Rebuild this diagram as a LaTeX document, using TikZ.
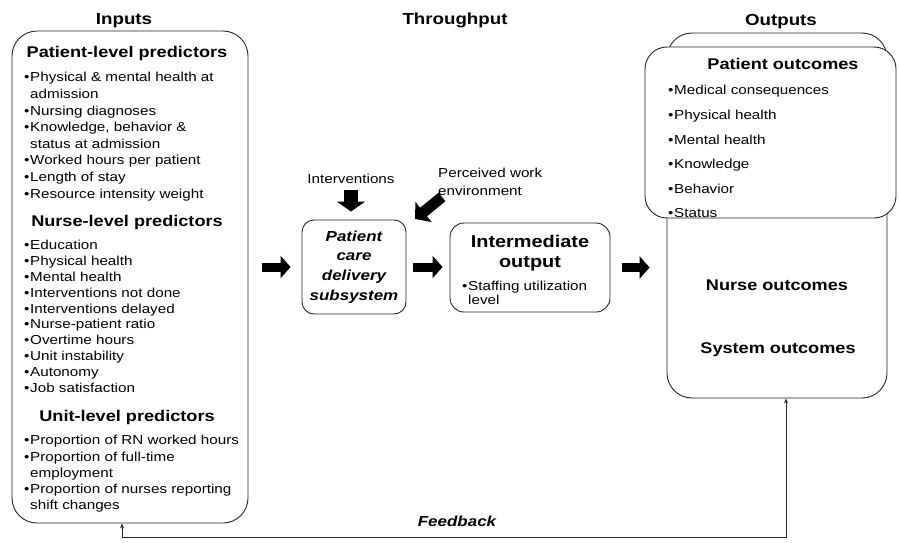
\documentclass[tikz,border=0pt]{standalone}
\usepackage{fontspec}
\setmainfont{Liberation Sans}[FakeStretch=1.17]
\usetikzlibrary{arrows.meta}
\newcommand{\bul}{\makebox[6pt][l]{•}}
\newcommand{\ind}{\hspace*{6pt}}
\begin{document}
\begin{tikzpicture}[x=1pt,y=-1pt,
  box/.style={draw=black!85, line width=0.9pt, inner sep=0pt},
  title/.style={inner sep=0pt, font=\fontsize{16}{19}\selectfont\bfseries},
  head/.style={inner sep=0pt, font=\fontsize{15.5}{18}\selectfont\bfseries},
  plain/.style={inner sep=0pt, font=\fontsize{13}{16}\selectfont},
  list/.style={align=left, inner sep=0pt, anchor=north west},
  flowarrow/.style={line width=9pt, -{Triangle[length=10pt,width=22pt]}},
  downarrow/.style={line width=14pt, -{Triangle[length=10pt,width=28pt]}},
  diagarrow/.style={line width=11pt, -{Triangle[length=11pt,width=25pt]}},
  fbline/.style={line width=0.9pt, draw=black!85, {Stealth[length=5pt,width=4pt]}-{Stealth[length=5pt,width=4pt]}}
]
\useasboundingbox (0,0) rectangle (899,543);

% column titles
\node[title] (tin) at (124,21) {Inputs};
\node[title] (tthr) at (455,20) {Throughput};
\node[title] (tout) at (781,22) {Outputs};

% inputs
\node[box, rounded corners=25pt, minimum width=236pt, minimum height=492pt] (inbox) at (130,277) {};
\node[head] (hpat) at (127,53) {Patient-level predictors};
\node[list, font=\fontsize{13}{16.6}\selectfont] (lpat) at (24,72.3) {%
\bul Physical \& mental health at\\
\ind admission\\
\bul Nursing diagnoses\\
\bul Knowledge, behavior \&\\
\ind status at admission\\
\bul Worked hours per patient\\
\bul Length of stay\\
\bul Resource intensity weight};
\node[head] (hnur) at (127,222) {Nurse-level predictors};
\node[list, font=\fontsize{13}{15.8}\selectfont] (lnur) at (24,240.3) {%
\bul Education\\
\bul Physical health\\
\bul Mental health\\
\bul Interventions not done\\
\bul Interventions delayed\\
\bul Nurse-patient ratio\\
\bul Overtime hours\\
\bul Unit instability\\
\bul Autonomy\\
\bul Job satisfaction};
\node[head] (hunit) at (127,417) {Unit-level predictors};
\node[list, font=\fontsize{13}{16.25}\selectfont] (lunit) at (24,435.3) {%
\bul Proportion of RN worked hours\\
\bul Proportion of full-time\\
\ind employment\\
\bul Proportion of nurses reporting\\
\ind shift changes};

% throughput
\node[box, rounded corners=12pt, minimum width=104pt, minimum height=94pt, align=center,
  font=\fontsize{14.5}{19.8}\selectfont\bfseries\itshape] (care) at (354,267) {Patient\\care\\delivery\\subsystem};
\node[box, rounded corners=14pt, minimum width=160pt, minimum height=89pt] (intbox) at (530,267.5) {};
\node[inner sep=0pt, align=center, font=\fontsize{17}{20}\selectfont\bfseries] (inttitle) at (530,253) {Intermediate\\output};
\node[list, font=\fontsize{13}{11}\selectfont] (intlist) at (462,281.3) {%
\bul Staffing utilization\\
\ind level};

\node[plain] (intv) at (351,179) {Interventions};
\node[plain, align=left, anchor=west, font=\fontsize{13}{18}\selectfont] (perc) at (438,182) {Perceived work\\environment};
\coordinate (pcTip) at (415,219);

% outputs
\node[box, rounded corners=25pt, minimum width=220pt, minimum height=365pt] (outbox) at (777,215.5) {};
\node[box, fill=white, rounded corners=22pt, minimum width=251pt, minimum height=171pt] (pout) at (770.5,132.5) {};
\node[head] (hpout) at (783,64) {Patient outcomes};
\node[list, font=\fontsize{13}{24.6}\selectfont] (lpout) at (668,85.3) {%
\bul Medical consequences\\
\bul Physical health\\
\bul Mental health\\
\bul Knowledge\\
\bul Behavior\\
\bul Status};
\node[head] (nout) at (777,285) {Nurse outcomes};
\node[head] (sout) at (778,350) {System outcomes};

% flow arrows
\draw[flowarrow, shorten <=14pt, shorten >=11pt] (inbox.east |- care.west) -- (care.west);
\draw[flowarrow, shorten <=7pt, shorten >=7pt] (care.east) -- (care.east -| intbox.west);
\draw[flowarrow, shorten <=12pt, shorten >=17pt] (intbox.east) -- (intbox.east -| outbox.west);
\draw[downarrow, shorten <=6pt, shorten >=8pt] (intv.south) -- (intv.south |- care.north);
\draw[diagarrow] ([shift={(4,1)}]perc.south west) -- (pcTip);

% feedback loop
\coordinate (fbR) at (786,537);
\coordinate (fbL) at (122,537);
\draw[fbline] (fbR |- outbox.south) -- (fbR) -- (fbL) -- (fbL |- inbox.south);
\node[inner sep=0pt, font=\fontsize{14.5}{17}\selectfont\bfseries\itshape] (fb) at (457,521) {Feedback};
\end{tikzpicture}
\end{document}
